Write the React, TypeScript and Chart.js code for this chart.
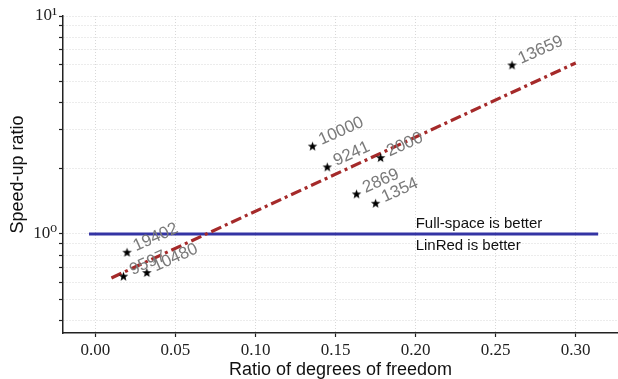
import React, { useEffect, useRef } from 'react';
import { Chart, registerables } from 'chart.js';

Chart.register(...registerables);

// ---- data ----
const dofRatio = [0.2602, 0.1356, 0.1448, 0.1781, 0.1631, 0.175, 0.01975, 0.0175, 0.0321];
const speedup = [5.96, 2.53, 2.03, 2.24, 1.526, 1.383, 0.824, 0.64, 0.665];
const pointLabels = ['13659', '10000', '9241', '2000', '2869', '1354', '19402', '9597', '10480'];
const fitX = [0.01, 0.3];
const fitY = [0.628, 6.09];
const refX = [-0.004, 0.314];
const refY = [1, 1];
const xTicks = [0, 0.05, 0.1, 0.15, 0.2, 0.25, 0.3];
const yTicks = [0.4, 0.5, 0.6, 0.7, 0.8, 0.9, 1, 2, 3, 4, 5, 6, 7, 8, 9, 10];
const yTickLabels: Record<string, string> = { '1': '10⁰', '10': '10¹' };
const regionLabels = ['Full-space is better', 'LinRed is better'];
const regionX = 0.2;
const xTitle = 'Ratio of degrees of freedom';
const yTitle = 'Speed-up ratio';

function makeStar(): HTMLCanvasElement {
  const c = document.createElement('canvas');
  const s = 11;
  c.width = s;
  c.height = s;
  const g = c.getContext('2d')!;
  const cx = s / 2, cy = s / 2 + 0.4, R = 5, r = 2.1;
  g.beginPath();
  for (let i = 0; i < 10; i++) {
    const rad = i % 2 === 0 ? R : r;
    const a = -Math.PI / 2 + (i * Math.PI) / 5;
    const px = cx + rad * Math.cos(a), py = cy + rad * Math.sin(a);
    if (i === 0) g.moveTo(px, py); else g.lineTo(px, py);
  }
  g.closePath();
  g.fillStyle = '#000';
  g.fill();
  return c;
}

const annotatePlugin = {
  id: 'annotate',
  afterDatasetsDraw(chart: any) {
    const { ctx, scales } = chart;
    const x = scales.x, y = scales.y;
    ctx.save();
    ctx.font = '17px "Liberation Sans", Arial, sans-serif';
    ctx.fillStyle = '#7a7a7a';
    ctx.textAlign = 'left';
    ctx.textBaseline = 'alphabetic';
    dofRatio.forEach((v, i) => {
      const px = x.getPixelForValue(v);
      const py = y.getPixelForValue(speedup[i]);
      ctx.save();
      ctx.translate(px + 9, py - 1);
      ctx.rotate((-24 * Math.PI) / 180);
      ctx.fillText(pointLabels[i], 0, 0);
      ctx.restore();
    });
    ctx.font = '15px "Liberation Sans", Arial, sans-serif';
    ctx.fillStyle = '#111';
    const lx = x.getPixelForValue(regionX);
    const ly = y.getPixelForValue(1);
    ctx.textBaseline = 'bottom';
    ctx.fillText(regionLabels[0], lx, ly - 3);
    ctx.textBaseline = 'top';
    ctx.fillText(regionLabels[1], lx, ly + 4);
    ctx.restore();
  },
};

export default function App() {
  const ref = useRef<HTMLCanvasElement>(null);
  useEffect(() => {
    const star = makeStar();
    const serif = '"Liberation Serif", "DejaVu Serif", serif';
    const sans = '"Liberation Sans", Arial, sans-serif';
    const chart = new Chart(ref.current!, {
      type: 'scatter',
      data: {
        datasets: [
          {
            type: 'scatter',
            data: dofRatio.map((v, i) => ({ x: v, y: speedup[i] })),
            pointStyle: star as any,
            pointRadius: 5,
            order: 0,
          },
          {
            type: 'line',
            data: fitX.map((v, i) => ({ x: v, y: fitY[i] })),
            borderColor: '#a52a2a',
            borderWidth: 3.2,
            borderDash: [11, 4, 3, 4],
            pointRadius: 0,
            fill: false,
            order: 1,
          },
          {
            type: 'line',
            data: refX.map((v, i) => ({ x: v, y: refY[i] })),
            borderColor: '#3434a4',
            borderWidth: 3,
            pointRadius: 0,
            fill: false,
            order: 2,
          },
        ],
      } as any,
      options: {
        animation: false,
        responsive: false,
        layout: { autoPadding: false, padding: { top: 16, right: 0, bottom: 0, left: 0 } },
        plugins: { legend: { display: false }, tooltip: { enabled: false } },
        scales: {
          x: {
            type: 'linear',
            min: -0.02025,
            max: 0.3264,
            afterBuildTicks: (s: any) => { s.ticks = xTicks.map((v) => ({ value: v })); },
            afterFit: (s: any) => { s.height = 46; s.paddingRight = 0; s.paddingLeft = 0; },
            ticks: {
              autoSkip: false,
              includeBounds: false,
              maxRotation: 0,
              padding: 3,
              color: '#222',
              font: { family: serif, size: 17 },
              callback: (v: any) => Number(v).toFixed(2),
            },
            grid: { color: '#d8d8d8', lineWidth: 1, tickColor: '#222', tickLength: 4, tickWidth: 1.2 },
            border: { display: true, color: '#222', width: 1.5, dash: [1, 2] },
            title: { display: true, text: xTitle, color: '#111', font: { family: sans, size: 18 }, padding: { top: 0, bottom: -2 } },
          },
          y: {
            type: 'logarithmic',
            min: 0.351,
            max: 10,
            afterBuildTicks: (s: any) => { s.ticks = yTicks.map((v) => ({ value: v })); },
            afterFit: (s: any) => { s.width = 63; },
            ticks: {
              autoSkip: false,
              padding: 2,
              color: '#222',
              font: { family: serif, size: 17 },
              callback: (v: any) => yTickLabels[String(v)] ?? '',
            },
            grid: { color: '#d8d8d8', lineWidth: 1, tickColor: '#222', tickLength: 4, tickWidth: 1.2 },
            border: { display: true, color: '#222', width: 1.5, dash: [1, 2] },
            title: { display: true, text: yTitle, color: '#111', font: { family: sans, size: 18 }, padding: { top: 7, bottom: 0 } },
          },
        },
      } as any,
      plugins: [annotatePlugin],
    });
    return () => chart.destroy();
  }, []);
  return (
    <div style={{ position: 'absolute', left: 0, top: 0, width: 618, height: 379, background: '#fff' }}>
      <canvas ref={ref} width={618} height={379} style={{ display: 'block' }} />
    </div>
  );
}
